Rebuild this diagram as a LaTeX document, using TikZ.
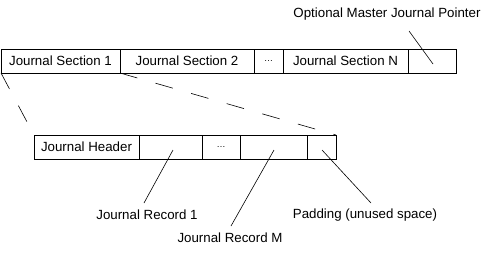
\documentclass[tikz,border=0pt]{standalone}
\usepackage{fontspec}
\setmainfont{Liberation Sans}
\begin{document}
\begin{tikzpicture}[x=1pt,y=-1pt,
  cell/.style={draw, line width=0.8pt, inner sep=0pt, outer sep=0pt, minimum height=24pt, font=\fontsize{13.3}{15}\selectfont},
  lbl/.style={inner sep=0pt, font=\fontsize{13.3}{15}\selectfont},
  lead/.style={line width=0.6pt},
  dsh/.style={line width=0.6pt, dash pattern=on 18pt off 19pt}]
\useasboundingbox (0,0) rectangle (486,252);
% top row
\node[cell, minimum width=119pt] (s1) at (60.5,61) {Journal Section 1};
\node[cell, minimum width=134pt] (s2) at (187,61) {Journal Section 2};
\node[cell, minimum width=29pt] (sd) at (268.5,61) {\fontsize{9}{10}\selectfont\ldots};
\node[cell, minimum width=125pt] (sn) at (345.5,61) {Journal Section N};
\node[cell, minimum width=48pt] (mp) at (432,61) {};
% bottom row
\node[cell, minimum width=105pt] (hdr) at (86.5,147) {Journal Header};
\node[cell, minimum width=63pt] (r1) at (170.5,147) {};
\node[cell, minimum width=38pt] (rd) at (221,147) {\fontsize{9}{10}\selectfont\ldots};
\node[cell, minimum width=67pt] (rm) at (273.5,147) {};
\node[cell, minimum width=29pt] (pad) at (321.5,147) {};
% labels
\node[lbl] (opt) at (387,14) {Optional Master Journal Pointer};
\node[lbl] (l1) at (147,215) {Journal Record 1};
\node[lbl] (lm) at (230,238) {Journal Record M};
\node[lbl] (lp) at (365,215) {Padding (unused space)};
% leader ends
\coordinate (o1) at (409,31);
\coordinate (o2) at (433,64);
\coordinate (a1) at (173,150);
\coordinate (a2) at (144,203);
\coordinate (b1) at (274,150);
\coordinate (b2) at (231,226);
\coordinate (c1) at (322,150);
\coordinate (c2) at (371,203);
\draw[lead] (o1) -- (o2);
\draw[lead] (a1) -- (a2);
\draw[lead] (b1) -- (b2);
\draw[lead] (c1) -- (c2);
% dashed expansion
\draw[dsh] (s1.south west) -- (hdr.north west);
\draw[dsh] (s1.south east) -- (pad.north east);
\end{tikzpicture}
\end{document}
